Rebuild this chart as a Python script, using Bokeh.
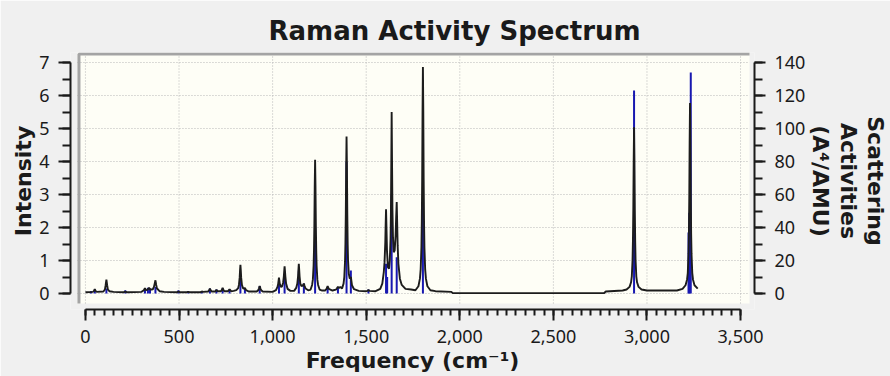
from bokeh.plotting import figure
from bokeh.models import Range1d, LinearAxis, FixedTicker, BoxAnnotation
from bokeh.embed import file_html
from bokeh.resources import INLINE

# ---------------- data ----------------
stick_freq = [30, 50, 112, 213, 318, 334, 345, 374, 497, 549, 622, 665, 700, 733, 770,
              828, 852, 931, 1034, 1064, 1140, 1167, 1227, 1294, 1349, 1395, 1418, 1512,
              1606, 1612, 1636, 1663, 1803, 2931, 3222, 3226, 3234]
stick_act = [1.5, 2.5, 3, 2, 3, 3.5, 3, 4, 2, 1.5, 1.5, 3, 2.5, 3, 2.5,
             9, 3, 4.5, 8, 12, 14, 6, 40, 4, 4, 80, 14, 2.5,
             18, 10, 60, 22, 60, 123, 37, 49, 134]

curve_freq = [0, 40, 46, 50, 54, 60,
              96, 104, 108, 112, 116, 120, 128, 150,
              205, 213, 221,
              300, 312, 318, 324, 330, 334, 340, 346, 352, 360, 366, 370, 374, 378, 382, 388, 396, 420,
              490, 497, 504, 542, 549, 556, 615, 622, 629,
              655, 661, 665, 669, 675, 694, 700, 706,
              724, 729, 733, 737, 742, 762, 770, 778, 792, 806,
              816, 820, 824, 826, 828, 830, 832, 836, 842, 848, 852, 858, 872,
              915, 923, 927, 931, 935, 939, 947,
              1000, 1018, 1026, 1030, 1034, 1038, 1044, 1050, 1056, 1060, 1062, 1064, 1066, 1068, 1072, 1080, 1095, 1115,
              1126, 1132, 1136, 1138, 1140, 1142, 1144, 1148, 1154, 1160, 1164, 1167, 1170, 1176, 1190, 1200,
              1203, 1211, 1215, 1219, 1221, 1223, 1225, 1227, 1229, 1231, 1233, 1235, 1239, 1243, 1251, 1265, 1280,
              1288, 1294, 1300, 1320, 1338, 1343, 1349, 1355, 1362,
              1371, 1379, 1383, 1387, 1389, 1391, 1393, 1395, 1397, 1399, 1401, 1403, 1407, 1412, 1418, 1424, 1435, 1460,
              1500, 1507, 1512, 1517, 1550,
              1575, 1586, 1594, 1598, 1602, 1604, 1606, 1608, 1611, 1616, 1622, 1626, 1630, 1632, 1634, 1636, 1638,
              1640, 1643, 1647, 1652, 1657, 1660, 1663, 1665, 1668, 1672, 1680, 1690, 1710, 1740,
              1763, 1779, 1787, 1791, 1795, 1797, 1799, 1801, 1803, 1805, 1807, 1809, 1811, 1815, 1819, 1827, 1843, 1870,
              1955, 1962, 2770, 2780, 2870,
              2891, 2907, 2915, 2919, 2923, 2925, 2927, 2929, 2931, 2933, 2935, 2937, 2939, 2943, 2947, 2955, 2971, 3000, 3160,
              3190, 3206, 3214, 3218, 3222, 3224, 3226, 3228, 3230, 3232, 3234, 3236, 3238, 3242, 3246, 3254, 3271]
curve_int = [0.04, 0.05, 0.08, 0.13, 0.08, 0.05,
             0.06, 0.12, 0.25, 0.42, 0.25, 0.12, 0.07, 0.05,
             0.04, 0.06, 0.04,
             0.05, 0.10, 0.16, 0.10, 0.11, 0.13, 0.17, 0.12, 0.12, 0.13, 0.20, 0.30, 0.40, 0.26, 0.15, 0.12, 0.07, 0.05,
             0.04, 0.06, 0.04, 0.04, 0.05, 0.04, 0.04, 0.06, 0.05,
             0.06, 0.10, 0.15, 0.10, 0.06, 0.06, 0.11, 0.07,
             0.07, 0.11, 0.17, 0.11, 0.07, 0.07, 0.13, 0.07, 0.08, 0.10,
             0.16, 0.26, 0.48, 0.70, 0.87, 0.70, 0.48, 0.26, 0.16, 0.15, 0.17, 0.10, 0.06,
             0.06, 0.10, 0.15, 0.23, 0.15, 0.10, 0.06,
             0.05, 0.10, 0.20, 0.30, 0.48, 0.30, 0.20, 0.21, 0.32, 0.52, 0.68, 0.82, 0.68, 0.52, 0.30, 0.14, 0.08, 0.08,
             0.17, 0.30, 0.52, 0.72, 0.90, 0.72, 0.52, 0.30, 0.22, 0.24, 0.27, 0.30, 0.24, 0.15, 0.10, 0.11,
             0.12, 0.26, 0.42, 0.85, 1.30, 2.05, 3.25, 4.05, 3.25, 2.05, 1.30, 0.85, 0.42, 0.26, 0.12, 0.09, 0.09,
             0.14, 0.22, 0.14, 0.09, 0.12, 0.15, 0.20, 0.17, 0.20,
             0.15, 0.30, 0.50, 0.98, 1.50, 2.40, 3.80, 4.76, 3.80, 2.40, 1.50, 1.00, 0.60, 0.45, 0.50, 0.25, 0.13, 0.08,
             0.07, 0.08, 0.11, 0.08, 0.07,
             0.14, 0.30, 0.65, 0.95, 1.55, 2.10, 2.55, 2.05, 1.30, 0.80, 0.75, 1.00, 1.65, 2.40, 3.90, 5.50, 4.00,
             2.60, 1.70, 1.25, 1.30, 1.75, 2.30, 2.77, 2.25, 1.45, 0.90, 0.45, 0.26, 0.14, 0.12,
             0.10, 0.22, 0.45, 0.73, 1.40, 2.15, 3.45, 5.50, 6.86, 5.50, 3.45, 2.15, 1.40, 0.73, 0.45, 0.22, 0.10, 0.07,
             0.05, 0.01, 0.01, 0.06, 0.09,
             0.12, 0.20, 0.34, 0.52, 1.02, 1.58, 2.53, 4.00, 5.04, 4.00, 2.53, 1.58, 1.02, 0.52, 0.34, 0.20, 0.12, 0.09, 0.09,
             0.14, 0.25, 0.42, 0.62, 1.20, 1.80, 2.90, 4.60, 5.77, 4.60, 2.90, 1.80, 1.20, 0.62, 0.42, 0.25, 0.15]

x_ticks = [0, 500, 1000, 1500, 2000, 2500, 3000, 3500]
x_tick_labels = ["0", "500", "1,000", "1,500", "2,000", "2,500", "3,000", "3,500"]
x_minor_ticks = list(range(0, 3501, 50))
y_ticks = [0, 1, 2, 3, 4, 5, 6, 7]
y_minor_ticks = [i * 0.5 for i in range(0, 15)]
act_ticks = [0, 20, 40, 60, 80, 100, 120, 140]
act_minor_ticks = list(range(0, 141, 10))

title_text = "Raman Activity Spectrum"
x_label = "Frequency (cm\u207b\u00b9)"
y_label = "Intensity"
right_label = "Scattering\nActivities\n(A\u2074/AMU)"

# ---------------- geometry / style ----------------
W, H = 890, 376
FL, FR, FT, FB = 70, 757, 52, 309          # frame edges (px)
FW, FH = FR - FL, FB - FT
PX_PER_X = 0.188                            # px per cm-1
PX_PER_Y = 33.0                             # px per intensity unit
X_START = -15 / PX_PER_X
X_END = X_START + FW / PX_PER_X
Y_START = -16 / PX_PER_Y
Y_END = Y_START + FH / PX_PER_Y
ACT_SCALE = 20.0


def fx(px):   # px from frame left -> data x
    return X_START + px / PX_PER_X


def fy(px):   # px from frame bottom -> data y
    return Y_START + px / PX_PER_Y


BG = "#f0f0f0"
PLOT_BG = "#fefef6"
TXT = "#1a1a1a"
TICK_FONT = "Noto Sans"
LABEL_FONT = "DejaVu Sans"

p = figure(width=W, height=H, output_backend="svg", toolbar_location=None,
           x_range=Range1d(X_START, X_END), y_range=Range1d(Y_START, Y_END),
           min_border_left=FL, min_border_right=W - FR, min_border_top=FT, min_border_bottom=H - FB)
p.extra_y_ranges = {"act": Range1d(Y_START * ACT_SCALE, Y_END * ACT_SCALE)}
p.background_fill_color = BG
p.border_fill_color = BG
p.outline_line_color = None
p.xgrid.visible = False
p.ygrid.visible = False

# title
p.title.text = title_text
p.title.text_font = LABEL_FONT
p.title.text_font_style = "bold"
p.title.text_font_size = "26px"
p.title.text_color = TXT
p.title.align = "left"
p.title.offset = 198
p.title.standoff = 13


def style_axis(ax, tick_out, minor_out, standoff):
    ax.axis_line_color = TXT
    ax.axis_line_width = 2
    ax.major_tick_line_color = TXT
    ax.major_tick_line_width = 2
    ax.minor_tick_line_color = TXT
    ax.minor_tick_line_width = 2
    ax.major_tick_in = 0
    ax.major_tick_out = tick_out
    ax.minor_tick_in = 0
    ax.minor_tick_out = minor_out
    ax.major_label_text_font = TICK_FONT
    ax.major_label_text_font_size = "18px"
    ax.major_label_text_color = TXT
    ax.major_label_standoff = standoff
    ax.axis_label_text_font = LABEL_FONT
    ax.axis_label_text_font_style = "bold"
    ax.axis_label_text_font_size = "22px"
    ax.axis_label_text_color = TXT


xax = p.xaxis[0]
xax.ticker = FixedTicker(ticks=x_ticks, minor_ticks=x_minor_ticks)
xax.major_label_overrides = {t: s for t, s in zip(x_ticks, x_tick_labels)}
xax.bounds = (x_ticks[0], x_ticks[-1])
style_axis(xax, 11, 6, 9)
xax.axis_label = x_label
xax.axis_label_standoff = 2

yax = p.yaxis[0]
yax.ticker = FixedTicker(ticks=y_ticks, minor_ticks=y_minor_ticks)
yax.bounds = (y_ticks[0], y_ticks[-1])
style_axis(yax, 12, 8, 9)
yax.axis_label = y_label
yax.axis_label_standoff = 0

rax = LinearAxis(y_range_name="act", ticker=FixedTicker(ticks=act_ticks, minor_ticks=act_minor_ticks))
rax.bounds = (act_ticks[0], act_ticks[-1])
style_axis(rax, 11, 8, 9)
rax.axis_label = right_label
rax.axis_label_text_line_height = 1.09
rax.axis_label_standoff = 0
p.add_layout(rax, "right")

# inset plot area (light panel with a grey top/left edge)
BOX_LEFT, BOX_RIGHT = fx(7), fx(682)
BOX_BOTTOM, BOX_TOP = fy(6), Y_END
p.add_layout(BoxAnnotation(left=BOX_LEFT, right=BOX_RIGHT, bottom=BOX_BOTTOM, top=BOX_TOP,
                           fill_color=PLOT_BG, fill_alpha=1.0, line_color=None, level="underlay"))

# dotted grid inside the panel
p.segment(x0=x_ticks, y0=BOX_BOTTOM, x1=x_ticks, y1=BOX_TOP,
          line_color="#b8b8b8", line_width=1, line_dash="1 2")
p.segment(x0=BOX_LEFT, y0=y_ticks, x1=BOX_RIGHT, y1=y_ticks,
          line_color="#b8b8b8", line_width=1, line_dash="1 2")

# panel edge
p.line(x=[fx(8.5), fx(8.5), BOX_RIGHT], y=[BOX_BOTTOM, Y_END - 1.5 / PX_PER_Y, Y_END - 1.5 / PX_PER_Y],
       line_color="#a4a4a4", line_width=3)

# scattering activity sticks (right axis)
p.segment(x0=stick_freq, y0=0, x1=stick_freq, y1=stick_act, y_range_name="act",
          line_color="#1818b0", line_width=2)

# broadened intensity spectrum (left axis)
p.line(x=curve_freq, y=curve_int, line_color="#1c1c1c", line_width=1.9)

open("out.html", "w").write(file_html(p, INLINE))
